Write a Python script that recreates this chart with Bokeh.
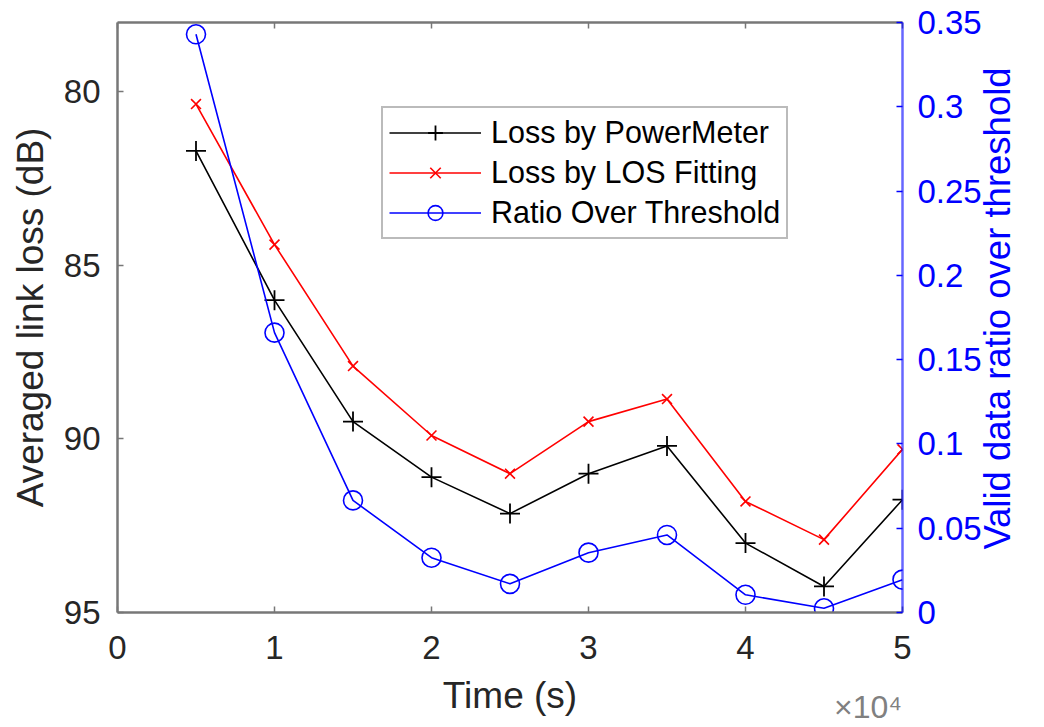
import math
from bokeh.plotting import figure
from bokeh.models import (Range1d, LinearAxis, FixedTicker, CustomJSTickFormatter)
from bokeh.embed import file_html
from bokeh.resources import INLINE

# ---- data ----
time_s = [5000, 10000, 15000, 20000, 25000, 30000, 35000, 40000, 45000, 50000]
loss_powermeter = [81.7, 86.0, 89.5, 91.1, 92.15, 91.0, 90.2, 93.0, 94.25, 91.75]
loss_los_fitting = [80.35, 84.4, 87.9, 89.9, 91.0, 89.5, 88.85, 91.8, 92.9, 90.3]
ratio_over_threshold = [0.343, 0.166, 0.0665, 0.0325, 0.017, 0.0355, 0.046, 0.0105, 0.0025, 0.0195]

x_ticks = [0, 10000, 20000, 30000, 40000, 50000]
left_ticks = [80, 85, 90, 95]
right_ticks = [0, 0.05, 0.1, 0.15, 0.2, 0.25, 0.3, 0.35]

FONT = "Liberation Sans"
AX = "#777777"
TXT = "#262626"

W, H = 1044, 727
p = figure(width=W, height=H, output_backend="svg", toolbar_location=None,
           x_range=Range1d(0, 50000), y_range=Range1d(95, 78),
           min_border_left=117, min_border_right=W - 902,
           min_border_top=22, min_border_bottom=H - 613)
p.extra_y_ranges = {"ratio": Range1d(0, 0.35)}
p.xgrid.visible = False
p.ygrid.visible = False
p.outline_line_color = None
p.background_fill_color = "white"
p.border_fill_color = "white"

def style(ax, color, text_color, fs="33px"):
    ax.axis_line_color = color
    ax.axis_line_width = 2.5
    ax.major_tick_line_color = color
    ax.major_tick_line_width = 1.5
    ax.major_tick_in = 6
    ax.major_tick_out = 0
    ax.minor_tick_line_color = None
    ax.major_label_text_font = FONT
    ax.major_label_text_font_size = fs
    ax.major_label_text_color = text_color
    ax.axis_label_text_font = FONT
    ax.axis_label_text_font_size = "37px"
    ax.axis_label_text_font_style = "normal"
    ax.axis_label_text_color = text_color

def bare(ax):
    ax.axis_line_color = None
    ax.major_tick_line_color = None
    ax.minor_tick_line_color = None
    ax.major_tick_in = 0
    ax.major_tick_out = 0
    ax.minor_tick_in = 0
    ax.minor_tick_out = 0
    ax.major_label_text_font = FONT

# bottom x axis
xa = p.xaxis[0]
style(xa, AX, TXT)
xa.ticker = FixedTicker(ticks=x_ticks)
xa.formatter = CustomJSTickFormatter(code="return (tick/10000).toFixed(0);")
xa.axis_label = "Time (s)"
xa.major_label_standoff = 23
xa.axis_label_standoff = 13

# exponent note under the x axis (drawn as a tick label of a bare axis)
xb = LinearAxis(ticker=FixedTicker(ticks=[47800]),
                formatter=CustomJSTickFormatter(code="return '\u00d710\u2074';"))
bare(xb)
xb.major_label_text_font_size = "32px"
xb.major_label_text_color = "#808080"
xb.major_label_standoff = -30
p.add_layout(xb, "below")

# left y axis
ya = p.yaxis[0]
style(ya, AX, TXT)
ya.ticker = FixedTicker(ticks=left_ticks)
ya.axis_label = "Averaged link loss (dB)"
ya.major_label_standoff = 17
ya.axis_label_standoff = 10

# top axis (box ticks, no labels)
ta = LinearAxis(ticker=FixedTicker(ticks=x_ticks))
style(ta, AX, TXT)
ta.formatter = CustomJSTickFormatter(code="return '';")
ta.major_label_text_font_size = "1px"
ta.major_label_standoff = 0
p.add_layout(ta, "above")

# right y axis
ra = LinearAxis(y_range_name="ratio", ticker=FixedTicker(ticks=right_ticks))
style(ra, "#0000ff", "#0000ff")
ra.axis_line_alpha = 0.6
ra.formatter = CustomJSTickFormatter(code="return String(Math.round(tick*100)/100);")
ra.major_label_standoff = 15
p.add_layout(ra, "right")

# right axis title, reading bottom-to-top (rotated tick label of a bare axis)
yb = LinearAxis(y_range_name="ratio", ticker=FixedTicker(ticks=[0.0373]),
                formatter=CustomJSTickFormatter(code="return 'Valid data ratio over threshold';"))
bare(yb)
yb.major_label_text_font_size = "36.5px"
yb.major_label_text_color = "#0000ff"
yb.major_label_orientation = math.pi / 2
yb.major_label_standoff = 13
p.add_layout(yb, "right")

# series
p.line(time_s, loss_powermeter, color="black", line_width=1.6, legend_label="Loss by PowerMeter")
p.scatter(time_s, loss_powermeter, marker="cross", size=20, line_color="black", line_width=1.8,
          legend_label="Loss by PowerMeter")
p.line(time_s, loss_los_fitting, color="red", line_width=1.6, legend_label="Loss by LOS Fitting")
p.scatter(time_s, loss_los_fitting, marker="x", size=14, line_color="red", line_width=1.6,
          legend_label="Loss by LOS Fitting")
p.line(time_s, ratio_over_threshold, color="blue", line_width=1.6, y_range_name="ratio",
       legend_label="Ratio Over Threshold")
p.scatter(time_s, ratio_over_threshold, marker="circle", size=19, fill_color=None,
          line_color="blue", line_width=1.6, y_range_name="ratio",
          legend_label="Ratio Over Threshold")

lg = p.legend[0]
lg.location = (264, 373)
lg.label_text_font = FONT
lg.label_text_font_size = "30.5px"
lg.label_text_color = "black"
lg.glyph_width = 92
lg.glyph_height = 37
lg.label_height = 37
lg.spacing = 3
lg.padding = 6
lg.margin = 0
lg.label_standoff = 10
lg.border_line_color = AX
lg.border_line_width = 2.5
lg.background_fill_color = "white"
lg.background_fill_alpha = 1.0

open("out.html", "w").write(file_html(p, INLINE))
